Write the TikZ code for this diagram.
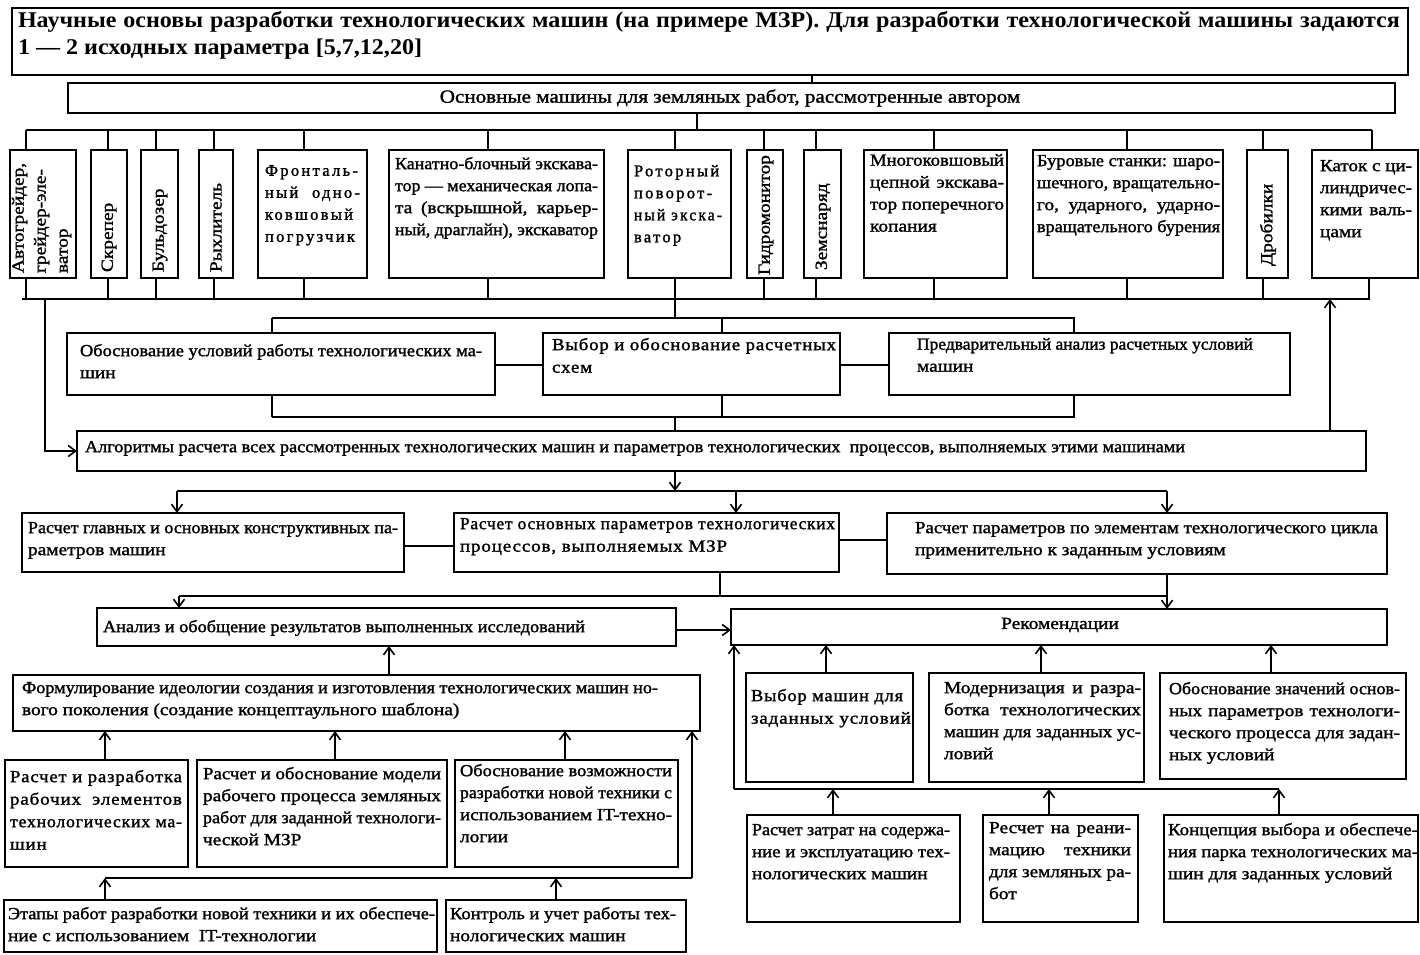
\documentclass[tikz,border=0pt]{standalone}
\usepackage{fontspec}
\usepackage{graphicx}
\setmainfont{Liberation Serif}[FakeStretch=1.14,FakeBold=1.5]
\newfontfamily\titlefont{Liberation Serif Bold}[FakeStretch=1.07]
\newfontfamily\wideA{Liberation Serif}[LetterSpace=14,FakeBold=1.5]
\newfontfamily\wideB{Liberation Serif}[FakeStretch=1.12,LetterSpace=5,FakeBold=1.5]
\usetikzlibrary{arrows.meta}

% justified line of width \jw: spaces stretch, or the line is squeezed if too long
\def\jw{100pt}
\newcommand\jl[1]{\sbox0{#1}\ifdim\wd0>\jw\relax\resizebox{\jw}{\height}{#1}\else\makebox[\jw][s]{#1}\fi}
% frame node from corner (#2,#3) to corner (#4,#5)
\newcommand\bx[5]{\node[frame, minimum width={(#4)-(#2)}, minimum height={(#5)-(#3)}] (#1) at (#2,#3) {};}

\tikzset{
  frame/.style={draw, line width=1.7pt, anchor=north west, inner sep=0pt, outer sep=0pt},
  txt/.style={anchor=north west, inner sep=0pt, outer sep=0pt, align=left,
              font=\fontsize{17}{22}\selectfont},
  jw/.code={\def\jw{#1pt}},
  wa/.style={font=\wideA\fontsize{16.5}{22}\selectfont},
  wb/.style={font=\wideB\fontsize{17}{22.5}\selectfont},
  vt/.style={txt, rotate=90, anchor=west},
  ln/.style={line width=1.6pt},
  arr/.style={line width=1.6pt, -{Straight Barb[length=7.5pt,width=11pt]}},
}

\begin{document}
\begin{tikzpicture}[x=1pt, y=-1pt]
\fill[white] (0,0) rectangle (1420,954);
\useasboundingbox (0,0) rectangle (1420,954);

% ---------- heading ----------
\bx{ttl}{12}{8}{1408}{75}
\node[txt, font=\titlefont\fontsize{22.5}{27}\selectfont, jw=1382] (ttl-t) at (18,11)
  {\jl{Научные основы разработки технологических машин (на примере МЗР). Для разработки технологической машины задаются}\\1 — 2 исходных параметра [5,7,12,20]};

\bx{main}{68}{83}{1395}{113}
\node[txt, font=\fontsize{18.5}{22}\selectfont, anchor=center] (main-t) at (730,98) {Основные машины для земляных работ, рассмотренные автором};

% ---------- machines ----------
\bx{m1}{10}{150}{76}{278}
\bx{m2}{91}{150}{127}{278}
\bx{m3}{141}{150}{178}{278}
\bx{m4}{199}{150}{233}{278}
\bx{m5}{258}{150}{367}{278}
\bx{m6}{389}{150}{604}{278}
\bx{m7}{628}{150}{731}{278}
\bx{m8}{747}{150}{783}{278}
\bx{m9}{804}{150}{841}{278}
\bx{m10}{864}{150}{1007}{278}
\bx{m11}{1033}{150}{1223}{278}
\bx{m12}{1247}{150}{1288}{278}
\bx{m13}{1312}{150}{1418}{278}

\node[txt, rotate=90, anchor=north west] (m1-t) at (12,273) {Автогрейдер,\\грейдер-эле-\\ватор};
\node[vt] (m2-t) at (109,272) {Скрепер};
\node[vt] (m3-t) at (160,272) {Бульдозер};
\node[vt] (m4-t) at (216,272) {Рыхлитель};
\node[txt, wa, jw=95] (m5-t) at (265,165) {\jl{Фронталь-}\\\jl{ный одно-}\\\jl{ковшовый}\\погрузчик};
\node[txt, jw=203] (m6-t) at (395,157) {\jl{Канатно-блочный экскава-}\\\jl{тор — механическая лопа-}\\\jl{та (вскрышной, карьер-}\\\jl{ный, драглайн), экскаватор}};
\node[txt, wa, jw=88] (m7-t) at (634,165) {\jl{Роторный}\\\jl{поворот-}\\\jl{ный экска-}\\ватор};
\node[vt] (m8-t) at (766,275) {Гидромонитор};
\node[vt] (m9-t) at (823,270) {Земснаряд};
\node[txt, jw=134] (m10-t) at (870,154) {\jl{Многоковшовый}\\\jl{цепной экскава-}\\\jl{тор поперечного}\\копания};
\node[txt, jw=183] (m11-t) at (1037,155) {\jl{Буровые станки: шаро-}\\\jl{шечного, вращательно-}\\\jl{го, ударного, ударно-}\\\jl{вращательного бурения}};
\node[vt] (m12-t) at (1268,266) {Дробилки};
\node[txt, jw=92] (m13-t) at (1320,160) {\jl{Каток с ци-}\\\jl{линдричес-}\\\jl{кими валь-}\\цами};

% ---------- middle blocks ----------
\bx{ob}{67}{333}{495}{395}
\bx{vy}{543}{333}{840}{395}
\bx{pr}{889}{333}{1290}{395}
\node[txt, jw=402] (ob-t) at (80,344) {\jl{Обоснование условий работы технологических ма-}\\шин};
\node[txt, wb, jw=284] (vy-t) at (552,338) {\jl{Выбор и обоснование расчетных}\\схем};
\node[txt, jw=336] (pr-t) at (917,338) {\jl{Предварительный анализ расчетных условий}\\машин};

\bx{al}{77}{431}{1366}{471}
\node[txt, jw=1100] (al-t) at (85,441) {\jl{Алгоритмы расчета всех рассмотренных технологических машин и параметров технологических \ процессов, выполняемых этими машинами}};

\bx{rg}{22}{513}{404}{572}
\bx{ro}{454}{513}{839}{572}
\bx{rp}{887}{513}{1387}{574}
\node[txt, jw=370] (rg-t) at (28,522) {\jl{Расчет главных и основных конструктивных па-}\\раметров машин};
\node[txt, wb, jw=375] (ro-t) at (460,518) {\jl{Расчет основных параметров технологических}\\процессов, выполняемых МЗР};
\node[txt, jw=463] (rp-t) at (915,522) {\jl{Расчет параметров по элементам технологического цикла}\\применительно к заданным условиям};

\bx{an}{97}{608}{676}{646}
\bx{rek}{731}{609}{1387}{645}
\node[txt, jw=482] (an-t) at (103,620) {\jl{Анализ и обобщение результатов выполненных исследований}};
\node[txt, anchor=center] (rek-t) at (1060,625) {Рекомендации};

% ---------- lower left ----------
\bx{fo}{13}{675}{700}{731}
\node[txt, jw=636] (fo-t) at (22,682) {\jl{Формулирование идеологии создания и изготовления технологических машин но-}\\вого поколения (создание концептаульного шаблона)};

\bx{r1}{5}{760}{188}{867}
\bx{r2}{197}{760}{447}{867}
\bx{r3}{455}{760}{678}{867}
\node[txt, wb, jw=172] (r1-t) at (10,770) {\jl{Расчет и разработка}\\\jl{рабочих элементов}\\\jl{технологических ма-}\\шин};
\node[txt, jw=238] (r2-t) at (203,767) {\jl{Расчет и обоснование модели}\\\jl{рабочего процесса земляных}\\\jl{работ для заданной технологи-}\\ческой МЗР};
\node[txt, jw=212] (r3-t) at (460,764) {\jl{Обоснование возможности}\\\jl{разработки новой техники с}\\\jl{использованием IT-техно-}\\логии};

\bx{e1}{4}{900}{437}{952}
\bx{e2}{446}{900}{686}{952}
\node[txt, jw=427] (e1-t) at (8,907) {\jl{Этапы работ разработки новой техники и их обеспече-}\\ние с использованием \ IT-технологии};
\node[txt, jw=226] (e2-t) at (450,907) {\jl{Контроль и учет работы тех-}\\нологических машин};

% ---------- lower right ----------
\bx{v1}{746}{673}{913}{782}
\bx{v2}{929}{673}{1144}{782}
\bx{v3}{1160}{673}{1406}{779}
\node[txt, wb, jw=152] (v1-t) at (751,689) {\jl{Выбор машин для}\\заданных условий};
\node[txt, jw=197] (v2-t) at (944,682) {\jl{Модернизация и разра-}\\\jl{ботка технологических}\\\jl{машин для заданных ус-}\\ловий};
\node[txt, jw=231] (v3-t) at (1169,682) {\jl{Обоснование значений основ-}\\\jl{ных параметров технологи-}\\\jl{ческого процесса для задан-}\\ных условий};

\bx{w1}{747}{815}{960}{922}
\bx{w2}{983}{815}{1138}{922}
\bx{w3}{1164}{815}{1418}{922}
\node[txt, jw=198] (w1-t) at (752,824) {\jl{Расчет затрат на содержа-}\\\jl{ние и эксплуатацию тех-}\\нологических машин};
\node[txt, jw=142] (w2-t) at (989,822) {\jl{Ресчет на реани-}\\\jl{мацию \ техники}\\\jl{для земляных ра-}\\бот};
\node[txt, jw=250] (w3-t) at (1168,823) {\jl{Концепция выбора и обеспече-}\\\jl{ния парка технологических ма-}\\шин для заданных условий};

% ---------- connectors: top part ----------
\draw[ln] (812,0 |- ttl.south) -- (812,0 |- main.north);
\coordinate (b1) at (0,130);
\coordinate (b2) at (0,299);
\draw[ln] (697,0 |- main.south) -- (697,0 |- b1);
\draw[ln] (26,0 |- b1) -- (1372,0 |- b1);
\draw[ln] (22,0 |- b2) -- (1370,0 |- b2);
\foreach \m/\x in {m1/26, m2/108, m3/156, m4/214, m5/304, m6/488, m7/675, m8/764,
                   m9/816, m10/934, m11/1127, m12/1263, m13/1372}
  \draw[ln] (\x,0 |- b1) -- (\x,0 |- \m.north);
\foreach \m/\x in {m1/26, m2/108, m3/156, m4/214, m5/304, m6/488, m8/764,
                   m9/816, m10/934, m11/1127, m12/1263, m13/1369}
  \draw[ln] (\x,0 |- \m.south) -- (\x,0 |- b2);

\coordinate (b3) at (0,318);
\coordinate (b4) at (0,417);
\draw[ln] (675,0 |- m7.south) -- (675,0 |- b3);
\draw[ln] (272,0 |- b3) -- (1075,0 |- b3);
\draw[ln] (272,0 |- b3) -- (272,0 |- ob.north);
\draw[ln] (722,0 |- b3) -- (722,0 |- vy.north);
\draw[ln] (1074,0 |- b3) -- (1074,0 |- pr.north);
\draw[ln] (ob.east |- 0,365) -- (vy.west |- 0,365);
\draw[ln] (vy.east |- 0,365) -- (pr.west |- 0,365);
\draw[ln] (272,0 |- b4) -- (1075,0 |- b4);
\draw[ln] (272,0 |- ob.south) -- (272,0 |- b4);
\draw[ln] (722,0 |- vy.south) -- (722,0 |- b4);
\draw[ln] (1074,0 |- pr.south) -- (1074,0 |- b4);
\draw[ln] (675,0 |- b4) -- (675,0 |- al.north);

\draw[arr] (45,0 |- b2) |- (al.west);
\draw[arr] (1330,0 |- al.north) -- (1330,0 |- b2);

% ---------- connectors: calculation blocks ----------
\coordinate (b5) at (0,491);
\coordinate (b6) at (0,596);
\draw[arr] (675,0 |- al.south) -- (675,0 |- b5);
\draw[ln] (177,0 |- b5) -- (1167,0 |- b5);
\draw[arr] (177,0 |- b5) -- (177,0 |- rg.north);
\draw[arr] (736,0 |- b5) -- (736,0 |- ro.north);
\draw[arr] (1167,0 |- b5) -- (1167,0 |- rp.north);
\draw[ln] (rg.east |- 0,546) -- (ro.west |- 0,546);
\draw[ln] (ro.east |- 0,540) -- (rp.west |- 0,540);
\draw[ln] (720,0 |- ro.south) -- (720,0 |- b6);
\draw[ln] (179,0 |- b6) -- (1167,0 |- b6);
\draw[arr] (179,0 |- b6) -- (179,0 |- an.north);
\draw[arr] (1167,0 |- rp.south) -- (1167,0 |- rek.north);
\draw[arr] (an.east |- 0,630) -- (rek.west |- 0,630);

% ---------- connectors: lower left ----------
\coordinate (b7) at (0,878);
\draw[arr] (389,0 |- fo.north) -- (389,0 |- an.south);
\draw[arr] (105,0 |- r1.north) -- (105,0 |- fo.south);
\draw[arr] (335,0 |- r2.north) -- (335,0 |- fo.south);
\draw[arr] (565,0 |- r3.north) -- (565,0 |- fo.south);
\draw[ln] (105,0 |- b7) -- (692,0 |- b7);
\draw[arr] (692,0 |- b7) -- (692,0 |- fo.south);
\draw[arr] (105,0 |- e1.north) -- (105,0 |- b7);
\draw[arr] (556,0 |- e2.north) -- (556,0 |- b7);

% ---------- connectors: lower right ----------
\coordinate (b8) at (0,789);
\draw[arr] (826,0 |- v1.north) -- (826,0 |- rek.south);
\draw[arr] (1041,0 |- v2.north) -- (1041,0 |- rek.south);
\draw[arr] (1271,0 |- v3.north) -- (1271,0 |- rek.south);
\draw[ln] (734,0 |- b8) -- (1279,0 |- b8);
\draw[arr] (734,0 |- b8) -- (734,0 |- rek.south);
\draw[arr] (833,0 |- w1.north) -- (833,0 |- b8);
\draw[arr] (1049,0 |- w2.north) -- (1049,0 |- b8);
\draw[arr] (1279,0 |- w3.north) -- (1279,0 |- b8);
\end{tikzpicture}
\end{document}
